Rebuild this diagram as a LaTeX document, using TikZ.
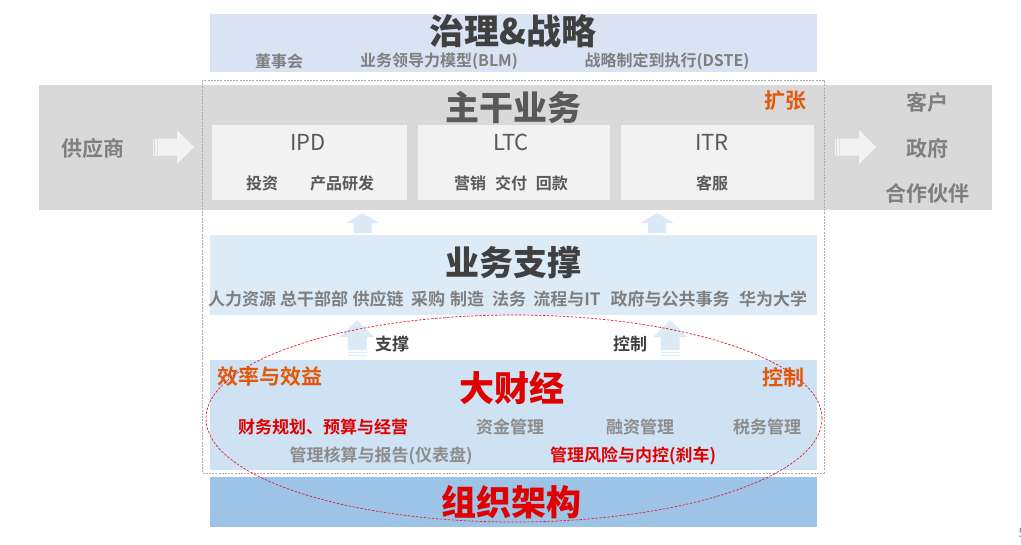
\documentclass[tikz,border=0pt]{standalone}
\usepackage{fontspec}
\setmainfont{Noto Sans CJK SC}[BoldFont={Noto Sans CJK SC Bold}]
\newfontfamily\cjkblack{Noto Sans CJK SC Black}
\newfontfamily\cjkreg{Noto Sans CJK SC}
\newcommand\myfs[1]{\fontsize{#1}{#1}\selectfont}
\definecolor{govfill}{HTML}{DAE3F3}
\definecolor{bandfill}{HTML}{D9D9D9}
\definecolor{innerfill}{HTML}{F2F2F2}
\definecolor{supfill}{HTML}{DDEBF7}
\definecolor{finfill}{HTML}{CFE2F3}
\definecolor{orgfill}{HTML}{9DC3E6}
\definecolor{upfill}{HTML}{DCEAF7}
\definecolor{dark}{HTML}{404040}
\definecolor{mid}{HTML}{595959}
\definecolor{gry}{HTML}{7F7F7F}
\definecolor{gry2}{HTML}{8C8C8C}
\definecolor{redt}{HTML}{E00000}
\definecolor{orng}{HTML}{E2590C}
\definecolor{dashg}{HTML}{ABABAB}
\definecolor{elred}{HTML}{E0202A}
\tikzset{
  txt/.style={inner sep=0pt, outer sep=0pt, anchor=center},
  heavy/.style={txt, font=\cjkblack\myfs{#1}},
  bld/.style={txt, font=\bfseries\myfs{#1}},
  lgt/.style={txt, font=\cjkreg\myfs{#1}},
}
\begin{document}
\begin{tikzpicture}[x=1pt,y=-1pt]
\useasboundingbox (0,0) rectangle (1021,544);
% governance box
\fill[govfill] (210,14) rectangle (817,72);
\node[heavy=35, text=dark] (gov) at (513,31) {治理\&战略};
\node[bld=16, text=gry] (g1) at (279,61) {董事会};
\node[bld=16, text=gry] (g2) at (439,61) {业务领导力模型(BLM)};
\node[bld=16, text=gry] (g3) at (667,61) {战略制定到执行(DSTE)};
% main business band
\fill[bandfill] (39,85) rectangle (992,210);
\draw[dashg, line width=0.6pt, dash pattern=on 2pt off 1.2pt] (202,80) rectangle (824,473);
\node[heavy=34, text=mid] (main) at (513,107) {主干业务};
\node[bld=21, text=orng] (exp) at (785,101) {扩张};
\fill[innerfill] (212,125) rectangle (407,200);
\fill[innerfill] (418,125) rectangle (610,200);
\fill[innerfill] (621,125) rectangle (814,200);
\node[lgt=22, text=mid] (ipd) at (308,142) {IPD};
\node[lgt=22, text=mid] (ltc) at (511,142) {LTC};
\node[lgt=22, text=mid] (itr) at (712,142) {ITR};
\node[bld=16, text=mid] (ipd1) at (262,183) {投资};
\node[bld=16, text=mid] (ipd2) at (342,183) {产品研发};
\node[bld=16, text=mid] (ltc1) at (511,183) {营销\hspace{0.55em}交付\hspace{0.55em}回款};
\node[bld=16, text=mid] (itr1) at (712,183) {客服};
\node[bld=21, text=gry] (sup) at (93,148) {供应商};
\node[bld=21, text=gry] (c1) at (927,102) {客户};
\node[bld=21, text=gry] (c2) at (927,148) {政府};
\node[bld=21, text=gry] (c3) at (927,193) {合作伙伴};
% side arrows
\foreach \dx in {0,682}{
  \begin{scope}[xshift=\dx pt]
  \fill[innerfill] (157.5,138.5) -- (177,138.5) -- (177,130) -- (194,147) -- (177,164) -- (177,155.5) -- (157.5,155.5) -- cycle;
  \fill[innerfill] (152.5,138.5) rectangle (154,155.5);
  \fill[innerfill] (155.2,138.5) rectangle (156.5,155.5);
  \end{scope}
}
% top up arrows
\foreach \cx in {362.5,657}{
  \fill[upfill] (\cx-16.5,223) -- (\cx,213) -- (\cx+16.5,223) -- (\cx+9,223) -- (\cx+9,233) -- (\cx-9,233) -- (\cx-9,223) -- cycle;
}
% support box
\fill[supfill] (210,235) rectangle (817,315);
\node[heavy=34, text=dark] (supt) at (513,263) {业务支撑};
\foreach \nm/\xx/\tt in {s1/242/人力资源, s2/314/总干部部, s3/378/供应链, s4/428/采购, s5/467/制造, s6/509/法务, s7/567/流程与IT, s8/670/政府与公共事务, s9/773/华为大学}{
  \node[bld=17, text=gry] (\nm) at (\xx,299) {\tt};
}
% lower up arrows
\foreach \cx in {357,670}{
  \fill[upfill] (\cx-17,337) -- (\cx,320) -- (\cx+17,337) -- (\cx+9.5,337) -- (\cx+9.5,350) -- (\cx-9.5,350) -- (\cx-9.5,337) -- cycle;
  \fill[upfill] (\cx-9.5,351.6) rectangle (\cx+9.5,353);
  \fill[upfill] (\cx-9.5,354.6) rectangle (\cx+9.5,356);
}
\node[bld=17, text=dark] (zc) at (392,344) {支撑};
\node[bld=17, text=dark] (kz) at (630,344) {控制};
% finance box
\fill[finfill] (210,360) rectangle (817,470);
\node[bld=21, text=orng] (eff) at (270,377) {效率与效益};
\node[bld=21, text=orng] (ctl) at (783,377) {控制};
\node[heavy=35, text=redt] (fin) at (512,388) {大财经};
\node[bld=17, text=redt] (f1) at (323,427) {财务规划、预算与经营};
\node[bld=17, text=gry2] (f2) at (510,427) {资金管理};
\node[bld=17, text=gry2] (f3) at (640,427) {融资管理};
\node[bld=17, text=gry2] (f4) at (767,427) {税务管理};
\node[bld=17, text=gry2] (f5) at (381,456) {管理核算与报告(仪表盘)};
\node[bld=17, text=redt] (f6) at (633,456) {管理风险与内控(刹车)};
% organisation box
\fill[orgfill] (210,477) rectangle (817,527);
\node[heavy=35, text=redt] (org) at (511,502) {组织架构};
% ellipse
\draw[elred, line width=0.7pt, dash pattern=on 2.5pt off 1.5pt] (514,418.5) ellipse [x radius=308pt, y radius=103.5pt];
% page number
\node[txt, anchor=west, font=\myfs{13}, text=gry] (pg) at (1018.5,533) {5};
\end{tikzpicture}
\end{document}
